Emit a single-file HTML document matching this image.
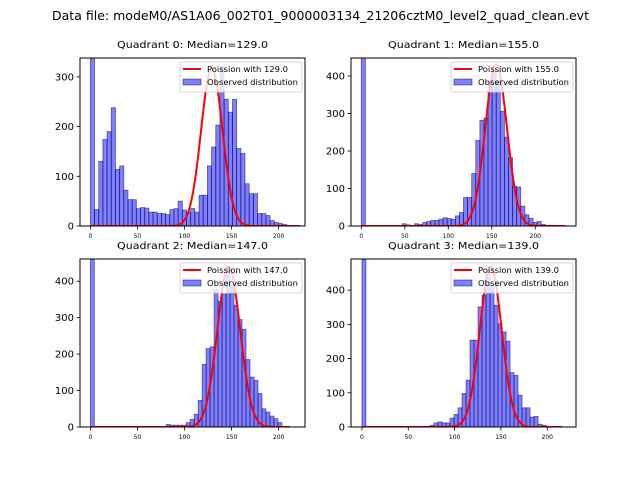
<!DOCTYPE html>
<html><head><meta charset="utf-8"><style>
html,body{margin:0;padding:0;background:#fff;}
svg{display:block;font-family:"DejaVu Sans","Liberation Sans",sans-serif;}
</style></head><body>
<svg id="fig" width="640" height="480" viewBox="0 0 640 480" xmlns="http://www.w3.org/2000/svg">
<rect width="640" height="480" fill="#fff"/>
<text x="52" y="20" font-size="12.5" textLength="537" lengthAdjust="spacingAndGlyphs">Data file: modeM0/AS1A06_002T01_9000003134_21206cztM0_level2_quad_clean.evt</text>
</svg>
<script>
const q0Counts=[1000,33,130,174,190,238,114,121,72,53,53,35,37,36,28,28,25,25,23,33,35,50,32,28,35,28,62,62,121,159,203,320,255,229,255,156,146,85,65,65,25,25,21,11,7,5,3,1,1,1];
const q1Counts=[1000,0,0,0,0,0,0,0,0,0,6,3,0,6,4,9,12,15,15,18,22,20,18,27,36,76,76,140,228,282,288,384,415,388,306,237,182,106,104,53,30,21,10,12,4,2,2,1,0,0];
const q2Counts=[1000,0,0,0,0,0,0,0,0,0,0,0,0,0,0,0,0,0,0,7,5,5,5,5,12,21,35,73,172,215,220,378,345,364,440,389,334,295,268,185,137,128,92,50,41,30,23,12,0,0];
const q3Counts=[1000,0,0,0,0,0,0,0,0,0,0,0,0,0,2,0,0,5,12,15,12,12,26,37,56,98,137,254,254,351,385,454,415,356,302,278,251,159,151,93,56,56,29,31,8,5,2,0,0,0];
const medians=[129.0,155.0,147.0,139.0];
const poissonPeaks=[318,432,440,469];
const dataMax=[222,235,212,216];
const yTicks=[[0,100,200,300],[0,100,200,300,400],[0,100,200,300,400],[0,100,200,300,400]];
const xTicks=[0,50,100,150,200];
const xLims=[[-11,228],[-11.8,246.8],[-11,228],[-11.8,231]];
const yLims=[338,448,461,491];

const NS="http://www.w3.org/2000/svg";
const fig=document.getElementById('fig');
function mk(tag,attrs,parent){const e=document.createElementNS(NS,tag);for(const k in attrs)e.setAttribute(k,attrs[k]);(parent||fig).appendChild(e);return e;}
const boxes=[[80,58,305,226],[351,58,576,226],[80,259,305,427],[351,259,576,427]];
const allCounts=[q0Counts,q1Counts,q2Counts,q3Counts];
for(let p=0;p<4;p++){
  const [L,T,R,B]=boxes[p];
  const g=mk('g',{});
  
  
  const xs=v=>L+(v-xLims[p][0])/(xLims[p][1]-xLims[p][0])*(R-L);
  const ys=v=>B-v/yLims[p]*(B-T);
  const cp=mk('clipPath',{id:'cp'+p},g);mk('rect',{x:L,y:T,width:R-L,height:B-T},cp);
  const pg=mk('g',{'clip-path':'url(#cp'+p+')'},g);
  const counts=allCounts[p];const bw=dataMax[p]/counts.length;
  counts.forEach((c,i)=>{
    if(c<=0)return;
    const x0=xs(i*bw),x1=xs((i+1)*bw);
    const r=mk('rect',{x:x0,y:ys(c),width:x1-x0,height:ys(0)-ys(c),fill:'rgba(0,0,255,0.5)',stroke:'rgba(0,0,80,0.55)','stroke-width':0.8},pg);
    
    
  });
  const lam=medians[p],sig=Math.sqrt(lam);let d='';
  for(let x=0;x<=dataMax[p];x+=0.5){const v=poissonPeaks[p]*Math.exp(-(x-lam)*(x-lam)/(2*sig*sig));d+=(d?'L':'M')+xs(x).toFixed(2)+','+ys(v).toFixed(2);}
  const ln=mk('path',{d:d,fill:'none',stroke:'#ff0000','stroke-width':2},pg);
  
  
  mk('rect',{x:L,y:T,width:R-L,height:B-T,fill:'none',stroke:'#000','stroke-width':1},g);
  yTicks[p].forEach(t=>{const y=ys(t);mk('line',{x1:L-3.5,x2:L,y1:y,y2:y,stroke:'#000','stroke-width':0.8},g);
    const tx=mk('text',{x:L-6,y:y+3.5,'text-anchor':'end','font-size':10},g);tx.textContent=t;
    
    });
  xTicks.forEach(t=>{const x=xs(t);mk('line',{x1:x,x2:x,y1:B,y2:B+3.5,stroke:'#000','stroke-width':0.8},g);
    const tx=mk('text',{x:x,y:B+12,'text-anchor':'middle','font-size':6},g);tx.textContent=t;
    
    });
  const tt=mk('text',{x:(L+R)/2-75.5,y:T-10,'font-size':9.5,textLength:151,lengthAdjust:'spacingAndGlyphs'},g);tt.textContent='Quadrant '+p+': Median='+medians[p].toFixed(1);
  
  
  const lg=mk('g',{},g);
  
  
  mk('rect',{x:R-125,y:T+4,width:122,height:30,rx:2,fill:'rgba(255,255,255,0.8)',stroke:'#ccc','stroke-width':0.8},lg);
  mk('line',{x1:R-122,x2:R-104,y1:T+11,y2:T+11,stroke:'#ff0000','stroke-width':2},lg);
  const l1=mk('text',{x:R-98,y:T+14,'font-size':8,textLength:81,lengthAdjust:'spacingAndGlyphs'},lg);l1.textContent='Poission with '+medians[p].toFixed(1);
  mk('rect',{x:R-122,y:T+21,width:18,height:6,fill:'rgba(0,0,255,0.5)',stroke:'rgba(0,0,80,0.55)','stroke-width':0.8},lg);
  const l2=mk('text',{x:R-98,y:T+27,'font-size':8,textLength:91,lengthAdjust:'spacingAndGlyphs'},lg);l2.textContent='Observed distribution';
}
</script>
</body></html>
